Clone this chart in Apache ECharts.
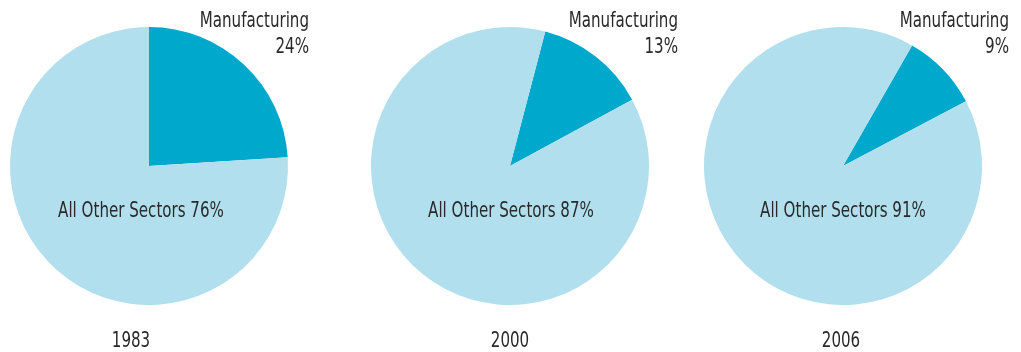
<!DOCTYPE html>
<html>
<head>
<meta charset="utf-8">
<script src="https://cdn.jsdelivr.net/npm/echarts@6/dist/echarts.min.js"></script>
<style>
  html, body { margin: 0; padding: 0; background: #ffffff; }
  #chart { width: 1021px; height: 352px; }
</style>
</head>
<body>
<div id="chart"></div>
<script>
// Share of employment: manufacturing vs. all other sectors
const years = ['1983', '2000', '2006'];
const manufacturing = [24, 13, 9];
const otherSectors = [76, 87, 91];
const sliceNames = ['Manufacturing', 'All Other Sectors'];

// Layout per pie
const centersX = [149, 510, 843];
const centerY = 166;
const radius = 139;
const startAngles = [90, 75.3, 60.2];
const mfgLabelRight = [309, 678, 1009];
const otherLabelX = [141, 511, 843];
const yearX = [131, 510, 841];

const FONT = '"DejaVu Sans Condensed", "Liberation Sans Narrow", sans-serif';
const FONT_SIZE = 21.5;
const SQUEEZE = 0.78; // horizontal condensing of label type
const TEXT_COLOR = '#2a2a2a';
const DARK = '#00a8cc';
const LIGHT = '#b2dfed';

const chart = echarts.init(document.getElementById('chart'));

const series = years.map((y, i) => ({
  type: 'pie',
  center: [centersX[i], centerY],
  radius: [0, radius],
  startAngle: startAngles[i],
  clockwise: true,
  animation: false,
  silent: true,
  label: { show: false },
  labelLine: { show: false },
  itemStyle: { borderWidth: 0 },
  data: [
    { name: sliceNames[0], value: manufacturing[i], itemStyle: { color: DARK } },
    { name: sliceNames[1], value: otherSectors[i], itemStyle: { color: LIGHT } }
  ]
}));

function label(x, y, text, align, vAlign) {
  return {
    type: 'text', x: x, y: y, scaleX: SQUEEZE, z: 10,
    style: {
      text: text, x: 0, y: 0, align: align, verticalAlign: vAlign,
      font: FONT_SIZE + 'px ' + FONT, fill: TEXT_COLOR, lineHeight: 26.5
    }
  };
}

const texts = [];
years.forEach((y, i) => {
  texts.push(label(mfgLabelRight[i], 8, sliceNames[0] + '\n' + manufacturing[i] + '%', 'right', 'top'));
  texts.push(label(otherLabelX[i], 211, sliceNames[1] + ' ' + otherSectors[i] + '%', 'center', 'middle'));
  texts.push(label(yearX[i], 341, y, 'center', 'middle'));
});

chart.setOption({
  backgroundColor: '#ffffff',
  animation: false,
  series: series,
  graphic: texts
});
</script>
</body>
</html>
